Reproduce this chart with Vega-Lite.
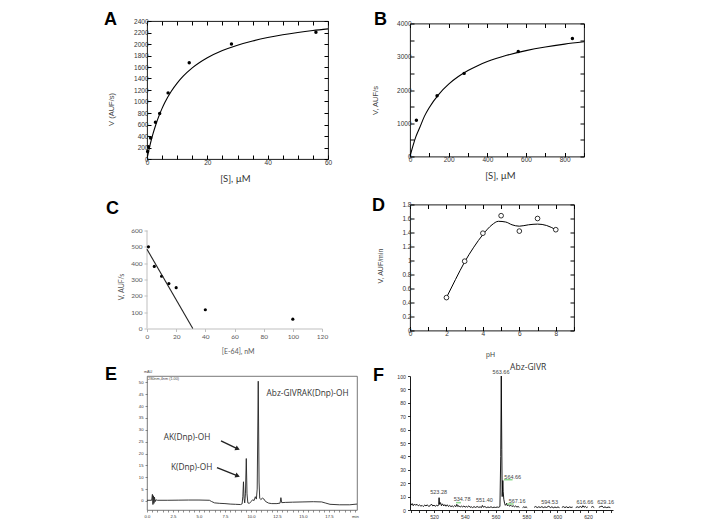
{
  "$schema": "https://vega.github.io/schema/vega-lite/v6.json",
  "background": "white",
  "padding": {"left": 103, "top": 10, "right": 5, "bottom": 5},
  "config": {
    "view": {"stroke": "black", "strokeWidth": 0.9},
    "axis": {"grid": false, "labelOverlap": false, "labelFlush": false, "labelFont": "Liberation Sans", "titleFont": "Liberation Sans", "labelColor": "#333", "titleColor": "#444", "titleFontWeight": "normal", "tickColor": "black", "domainColor": "black", "labelFontSize": 6.5, "titleFontSize": 7.5},
    "title": {"font": "Liberation Sans", "fontSize": 18, "fontWeight": "bold", "color": "black", "anchor": "start", "frame": "group", "offset": 0, "baseline": "alphabetic"}
  },
  "columns": 2,
  "spacing": {"row": 45.5, "column": 53},
  "bounds": "flush",
  "center": {"row": true, "column": false},
  "concat": [
    {
      "width": 181, "height": 138,
      "title": {"text": "A", "dx": -43, "dy": 15},
      "layer": [
        {
          "data": {"values": [{"x":0.1,"y":26},{"x":0.3,"y":77},{"x":0.5,"y":126},{"x":1,"y":240},{"x":1.5,"y":344},{"x":2,"y":440},{"x":3,"y":609},{"x":4,"y":754},{"x":5,"y":880},{"x":6,"y":990},{"x":8,"y":1173},{"x":10,"y":1320},{"x":12,"y":1440},{"x":15,"y":1584},{"x":20,"y":1760},{"x":25,"y":1886},{"x":30,"y":1980},{"x":35,"y":2053},{"x":40,"y":2112},{"x":45,"y":2160},{"x":50,"y":2200},{"x":55,"y":2234},{"x":60,"y":2263}]},
          "mark": {"type": "line", "color": "black", "strokeWidth": 1.1, "interpolate": "monotone"},
          "encoding": {
            "x": {"field": "x", "type": "quantitative", "scale": {"domain": [0, 60], "nice": false, "zero": false}, "axis": {"orient": "top", "values": [0,5,10,15,20,25,30,35,40,45,50,55,60], "labels": false, "title": null, "domain": false, "tickSize": -4}},
            "y": {"field": "y", "type": "quantitative", "scale": {"domain": [0, 2400], "nice": false}, "axis": {"orient": "right", "values": [0,200,400,600,800,1000,1200,1400,1600,1800,2000,2200,2400], "labels": false, "title": null, "domain": false, "tickSize": -4}}
          }
        },
        {
          "data": {"values": [{"x":0.2,"y":130},{"x":0.5,"y":215},{"x":1.2,"y":365},{"x":2.8,"y":640},{"x":4.2,"y":790},{"x":7,"y":1150},{"x":14,"y":1675},{"x":28,"y":2000},{"x":56,"y":2205}]},
          "mark": {"type": "circle", "color": "black", "size": 12, "opacity": 1},
          "encoding": {
            "x": {"field": "x", "type": "quantitative", "axis": {"orient": "bottom", "values": [0,5,10,15,20,25,30,35,40,45,50,55,60], "labelExpr": "datum.value % 20 === 0 ? datum.label : ''", "labelOverlap": false, "domain": false, "tickSize": -4, "labelPadding": 4, "title": "[S], µM", "titleFont": "Lato", "titleFontSize": 9.5, "titleColor": "#333", "titleX": 88, "titleY": 19.3, "titleBaseline": "middle", "titleAlign": "center"}},
            "y": {"field": "y", "type": "quantitative", "axis": {"orient": "left", "values": [0,200,400,600,800,1000,1200,1400,1600,1800,2000,2200,2400], "format": "d", "labelOverlap": false, "domain": false, "tickSize": -4, "labelPadding": 3, "title": "V (AUF/s)", "titleX": -36, "titleY": 88, "titleBaseline": "middle", "titleAlign": "center", "titleAngle": -90}}
          }
        }
      ],
      "resolve": {"axis": {"x": "independent", "y": "independent"}}
    },
    {
      "width": 174, "height": 133,
      "title": {"text": "B", "dx": -36, "dy": 12.5},
      "layer": [
        {
          "data": {"values": [{"x":0,"y":0},{"x":10,"y":217},{"x":20,"y":412},{"x":30,"y":589},{"x":50,"y":865},{"x":75,"y":1214},{"x":100,"y":1476},{"x":150,"y":1878},{"x":200,"y":2176},{"x":250,"y":2404},{"x":300,"y":2585},{"x":350,"y":2732},{"x":400,"y":2854},{"x":500,"y":3043},{"x":600,"y":3184},{"x":700,"y":3293},{"x":800,"y":3380},{"x":900,"y":3451}]},
          "mark": {"type": "line", "color": "black", "strokeWidth": 1.1, "interpolate": "monotone"},
          "encoding": {
            "x": {"field": "x", "type": "quantitative", "scale": {"domain": [0, 900], "nice": false}, "axis": {"orient": "top", "values": [0,100,200,300,400,500,600,700,800,900], "labels": false, "title": null, "domain": false, "tickSize": -4}},
            "y": {"field": "y", "type": "quantitative", "scale": {"domain": [0, 4000], "nice": false}, "axis": {"orient": "right", "values": [0,500,1000,1500,2000,2500,3000,3500,4000], "labels": false, "title": null, "domain": false, "tickSize": -4}}
          }
        },
        {
          "data": {"values": [{"x":33,"y":1090},{"x":140,"y":1825},{"x":280,"y":2500},{"x":560,"y":3160},{"x":840,"y":3550}]},
          "mark": {"type": "circle", "color": "black", "size": 12, "opacity": 1},
          "encoding": {
            "x": {"field": "x", "type": "quantitative", "axis": {"orient": "bottom", "values": [0,100,200,300,400,500,600,700,800,900], "labelExpr": "datum.value % 200 === 0 ? datum.label : ''", "labelOverlap": false, "domain": false, "tickSize": -4, "labelPadding": 4, "title": "[S], µM", "titleFont": "Lato", "titleFontSize": 9.5, "titleColor": "#333", "titleX": 90, "titleY": 19.3, "titleBaseline": "middle", "titleAlign": "center"}},
            "y": {"field": "y", "type": "quantitative", "axis": {"orient": "left", "values": [0,500,1000,1500,2000,2500,3000,3500,4000], "labelExpr": "datum.value % 1000 === 0 ? format(datum.value, 'd') : ''", "labelOverlap": false, "domain": false, "tickSize": -4, "labelPadding": 3, "title": "V, AUF/s", "titleX": -35, "titleY": 76.5, "titleBaseline": "middle", "titleAlign": "center", "titleAngle": -90}}
          }
        }
      ],
      "resolve": {"axis": {"x": "independent", "y": "independent"}}
    },
    {
      "width": 175, "height": 124,
      "view": {"stroke": null},
      "title": {"text": "C", "dx": -41, "dy": 17},
      "encoding": {
        "x": {"field": "x", "type": "quantitative", "scale": {"domain": [0, 120], "nice": false}, "axis": {"values": [0,20,40,60,80,100,120], "labelOverlap": false, "domainColor": "#bfbfbf", "tickColor": "#bfbfbf", "tickSize": 3, "labelColor": "#595959", "labelFont": "Lato", "labelFontSize": 6.5, "labelPadding": 2, "title": "[E-64], nM", "titleFont": "Lato", "titleFontSize": 7, "titleColor": "#595959", "titleX": 90.7, "titleY": 23, "titleBaseline": "middle", "titleAlign": "center"}},
        "y": {"field": "y", "type": "quantitative", "scale": {"domain": [0, 759.2], "nice": false}, "axis": {"values": [0,100,200,300,400,500,600], "labelOverlap": false, "domain": false, "tickColor": "#bfbfbf", "tickSize": 3, "labelColor": "#595959", "labelFont": "Lato", "labelFontSize": 6.5, "labelPadding": 2, "title": "V, AUF/s", "titleFont": "Lato", "titleFontSize": 7, "titleColor": "#595959", "titleX": -26, "titleY": 82, "titleBaseline": "middle", "titleAlign": "center", "titleAngle": -90}}
      },
      "layer": [
        {
          "data": {"values": [{"x":0,"y":0,"y2":600}]},
          "mark": {"type": "rule", "color": "#bfbfbf", "strokeWidth": 1},
          "encoding": {"y2": {"field": "y2"}}
        },
        {
          "data": {"values": [{"x":1,"y":500},{"x":5,"y":380},{"x":10,"y":320},{"x":15,"y":275},{"x":20,"y":250},{"x":40,"y":115},{"x":100,"y":57}]},
          "mark": {"type": "circle", "color": "black", "size": 10, "opacity": 1}
        },
        {
          "data": {"values": [{"x":0,"y":485},{"x":31.4,"y":0}]},
          "mark": {"type": "line", "color": "#222", "strokeWidth": 1.1}
        }
      ]
    },
    {
      "width": 164, "height": 126,
      "title": {"text": "D", "dx": -38, "dy": 17},
      "layer": [
        {
          "data": {"values": [{"x":2,"y":0.47},{"x":2.5,"y":0.73},{"x":3,"y":0.98},{"x":3.5,"y":1.19},{"x":4,"y":1.37},{"x":4.5,"y":1.51},{"x":4.85,"y":1.56},{"x":5.25,"y":1.55},{"x":5.6,"y":1.51},{"x":6,"y":1.49},{"x":6.5,"y":1.51},{"x":7,"y":1.52},{"x":7.5,"y":1.5},{"x":8,"y":1.44}]},
          "mark": {"type": "line", "color": "black", "strokeWidth": 1, "interpolate": "monotone"},
          "encoding": {
            "x": {"field": "x", "type": "quantitative", "scale": {"domain": [0, 9], "nice": false}, "axis": {"orient": "top", "values": [0,1,2,3,4,5,6,7,8,9], "labels": false, "title": null, "domain": false, "tickSize": -4}},
            "y": {"field": "y", "type": "quantitative", "scale": {"domain": [0, 1.8], "nice": false}, "axis": {"orient": "right", "values": [0,0.2,0.4,0.6,0.8,1,1.2,1.4,1.6,1.8], "labels": false, "title": null, "domain": false, "tickSize": -4}}
          }
        },
        {
          "data": {"values": [{"x":2,"y":0.47},{"x":3,"y":0.99},{"x":4,"y":1.39},{"x":5,"y":1.64},{"x":6,"y":1.42},{"x":7,"y":1.6},{"x":8,"y":1.44}]},
          "mark": {"type": "point", "shape": "circle", "filled": true, "fill": "white", "stroke": "black", "strokeWidth": 0.8, "size": 22, "opacity": 1},
          "encoding": {
            "x": {"field": "x", "type": "quantitative", "axis": {"orient": "bottom", "values": [0,1,2,3,4,5,6,7,8,9], "labelExpr": "datum.value % 2 === 0 ? datum.label : ''", "labelOverlap": false, "domain": false, "tickSize": -4, "labelPadding": 4, "title": "pH", "titleFontSize": 7, "titleX": 80, "titleY": 24, "titleBaseline": "middle", "titleAlign": "center"}},
            "y": {"field": "y", "type": "quantitative", "axis": {"orient": "left", "values": [0,0.2,0.4,0.6,0.8,1,1.2,1.4,1.6,1.8], "format": "~g", "labelOverlap": false, "domain": false, "tickSize": -4, "labelPadding": 3, "title": "V, AUF/min", "titleFontSize": 7, "titleX": -29.3, "titleY": 61, "titleBaseline": "middle", "titleAlign": "center", "titleAngle": -90}}
          }
        }
      ],
      "resolve": {"axis": {"x": "independent", "y": "independent"}}
    },
    {
      "width": 210, "height": 134,
      "view": {"stroke": "#555", "strokeWidth": 0.8},
      "title": {"text": "E", "dx": -42, "dy": 17.5},
      "encoding": {
        "x": {"field": "x", "type": "quantitative", "scale": {"domain": [0, 20.2], "nice": false, "zero": false}, "axis": {"values": [0,0.5,1,1.5,2,2.5,3,3.5,4,4.5,5,5.5,6,6.5,7,7.5,8,8.5,9,9.5,10,10.5,11,11.5,12,12.5,13,13.5,14,14.5,15,15.5,16,16.5,17,17.5,18,18.5,19,19.5,20], "labelExpr": "datum.value === 20 ? 'min' : (datum.value % 2.5 === 0 ? format(datum.value, '.1f') : '')", "labelOverlap": false, "domain": false, "tickSize": 2, "tickColor": "#444", "tickWidth": 0.6, "labelFontSize": 4.2, "labelPadding": 2, "title": null}},
        "y": {"field": "y", "type": "quantitative", "scale": {"domain": [-3.8, 52.7], "nice": false, "zero": false}, "axis": {"values": [0,5,10,15,20,25,30,35,40,45,50], "labelOverlap": false, "domain": false, "tickSize": 2, "tickColor": "#444", "tickWidth": 0.6, "labelFontSize": 4.2, "labelPadding": 2, "title": null}}
      },
      "layer": [
        {
          "data": {"values": [{"x":0,"y":0.3},{"x":0.45,"y":0.3},{"x":0.52,"y":2.8},{"x":0.57,"y":-1.5},{"x":0.62,"y":2.2},{"x":0.67,"y":-1.0},{"x":0.72,"y":1.6},{"x":0.78,"y":-0.3},{"x":0.85,"y":0.5},{"x":1.0,"y":0.3},{"x":2,"y":0.3},{"x":3,"y":0.35},{"x":4,"y":0.4},{"x":5,"y":0.4},{"x":6.0,"y":0.3},{"x":6.2,"y":-0.2},{"x":6.5,"y":-0.8},{"x":7,"y":-1.0},{"x":7.5,"y":-1.1},{"x":8,"y":-1.3},{"x":8.5,"y":-1.4},{"x":9.0,"y":-1.5},{"x":9.15,"y":-1.2},{"x":9.22,"y":2},{"x":9.28,"y":8.1},{"x":9.34,"y":1},{"x":9.4,"y":-0.8},{"x":9.47,"y":3},{"x":9.55,"y":17.9},{"x":9.62,"y":3},{"x":9.7,"y":-0.8},{"x":9.85,"y":-1.0},{"x":10.0,"y":-0.3},{"x":10.15,"y":0.5},{"x":10.3,"y":0.2},{"x":10.42,"y":1.8},{"x":10.52,"y":0.8},{"x":10.6,"y":5},{"x":10.7,"y":50.5},{"x":10.78,"y":8},{"x":10.84,"y":1.2},{"x":10.95,"y":0.6},{"x":11.1,"y":1.2},{"x":11.25,"y":0.8},{"x":11.4,"y":-0.2},{"x":11.7,"y":-0.9},{"x":12.0,"y":-1.1},{"x":12.5,"y":-1.1},{"x":12.8,"y":-0.9},{"x":12.88,"y":1.4},{"x":12.96,"y":-0.7},{"x":13.3,"y":-0.6},{"x":14,"y":-0.5},{"x":15,"y":-0.4},{"x":16,"y":-0.3},{"x":16.8,"y":-0.4},{"x":17.2,"y":-0.9},{"x":17.6,"y":-1.4},{"x":18.5,"y":-1.6},{"x":19.5,"y":-1.6},{"x":20.2,"y":-1.3}]},
          "mark": {"type": "line", "color": "#222", "strokeWidth": 0.9}
        },
        {
          "data": {"values": [{"x":11.5,"y":45.1,"t":"Abz-GIVRAK(Dnp)-OH"},{"x":1.6,"y":26.6,"t":"AK(Dnp)-OH"},{"x":2.3,"y":13.7,"t":"K(Dnp)-OH"}]},
          "mark": {"type": "text", "align": "left", "baseline": "middle", "font": "Open Sans", "fontSize": 8.3, "color": "#333"},
          "encoding": {"text": {"field": "t"}}
        },
        {
          "data": {"values": [{"x":-0.3,"y":54.3,"t":"mAU"},{"x":0.1,"y":51.6,"t":"280nm,4nm (1.00)"}]},
          "mark": {"type": "text", "align": "left", "baseline": "middle", "font": "Liberation Sans", "fontSize": 3.8, "color": "#444"},
          "encoding": {"text": {"field": "t"}}
        },
        {
          "data": {"values": [{"x":7.12,"y":25.3,"x2":8.72,"y2":21.97},{"x":6.73,"y":14.04,"x2":8.72,"y2":10.6}]},
          "mark": {"type": "rule", "color": "#222", "strokeWidth": 1.4},
          "encoding": {"x2": {"field": "x2"}, "y2": {"field": "y2"}}
        },
        {
          "data": {"values": [{"x":8.72,"y":21.97,"a":25},{"x":8.72,"y":10.6,"a":21}]},
          "mark": {"type": "point", "shape": "triangle-right", "filled": true, "color": "#222", "size": 28, "opacity": 1},
          "encoding": {"angle": {"field": "a", "type": "quantitative", "scale": null}}
        }
      ]
    },
    {
      "width": 203, "height": 134,
      "view": {"stroke": null},
      "title": {"text": "F", "dx": -37, "dy": 26},
      "encoding": {
        "x": {"field": "x", "type": "quantitative", "scale": {"domain": [504.4, 636.2], "nice": false, "zero": false}, "axis": {"values": [505,510,515,520,525,530,535,540,545,550,555,560,565,570,575,580,585,590,595,600,605,610,615,620,625,630,635], "labelExpr": "datum.value % 20 === 0 ? datum.label : ''", "labelOverlap": false, "tickSize": 2.5, "tickWidth": 0.8, "domainWidth": 0.9, "labelFontSize": 5.2, "labelPadding": 2, "title": null}},
        "y": {"field": "y", "type": "quantitative", "scale": {"domain": [0, 100], "nice": false}, "axis": {"values": [0,10,20,30,40,50,60,70,80,90,100], "labelOverlap": false, "tickSize": 2.5, "tickWidth": 0.8, "domainWidth": 0.9, "labelFontSize": 5.2, "labelPadding": 2, "title": null}}
      },
      "layer": [
        {
          "data": {"values": [
            {"x":505,"y":3.5,"s":1},{"x":505.8,"y":4.8,"s":1},{"x":506.5,"y":3.2,"s":1},{"x":507.3,"y":4.5,"s":1},{"x":508,"y":3.6,"s":1},{"x":509,"y":4.2,"s":1},{"x":509.8,"y":3.1,"s":1},{"x":510.5,"y":3.8,"s":1},{"x":511.5,"y":2.9,"s":1},{"x":512.3,"y":3.4,"s":1},{"x":513,"y":2.6,"s":1},{"x":514,"y":3.7,"s":1},{"x":514.8,"y":3.0,"s":1},{"x":515.6,"y":3.9,"s":1},{"x":516.5,"y":2.7,"s":1},{"x":517.5,"y":3.2,"s":1},{"x":518.3,"y":4.4,"s":1},{"x":519.2,"y":3.0,"s":1},{"x":520,"y":3.6,"s":1},{"x":520.8,"y":2.8,"s":1},{"x":521.7,"y":3.5,"s":1},{"x":522.5,"y":3.0,"s":1},{"x":523,"y":4.0,"s":1},{"x":523.28,"y":9.2,"s":1},{"x":523.6,"y":4.2,"s":1},{"x":524.2,"y":5.5,"s":1},{"x":524.8,"y":3.2,"s":1},{"x":525.5,"y":4.6,"s":1},{"x":526.3,"y":3.0,"s":1},{"x":527,"y":4.0,"s":1},{"x":527.8,"y":2.8,"s":1},{"x":528.6,"y":3.9,"s":1},{"x":529.4,"y":2.6,"s":1},{"x":530.2,"y":3.4,"s":1},{"x":531,"y":2.5,"s":1},{"x":531.8,"y":3.1,"s":1},{"x":532.6,"y":2.4,"s":1},{"x":533.4,"y":3.3,"s":1},{"x":534.2,"y":2.5,"s":1},{"x":534.78,"y":4.2,"s":1},{"x":535.4,"y":2.6,"s":1},{"x":536.2,"y":3.2,"s":1},{"x":537,"y":2.2,"s":1},{"x":537.8,"y":2.9,"s":1},{"x":538.6,"y":2.3,"s":1},{"x":539.4,"y":3.0,"s":1},{"x":540.2,"y":2.1,"s":1},{"x":541,"y":2.7,"s":1},{"x":541.8,"y":2.2,"s":1},{"x":542.6,"y":3.1,"s":1},{"x":543.4,"y":2.0,"s":1},{"x":544.2,"y":2.4,"s":1},{"x":545,"y":1.8,"s":1},{"x":546,"y":2.5,"s":1},{"x":547,"y":1.9,"s":1},{"x":548,"y":2.6,"s":1},{"x":549,"y":2.0,"s":1},{"x":550,"y":2.3,"s":1},{"x":550.8,"y":1.8,"s":1},{"x":551.4,"y":3.4,"s":1},{"x":552,"y":2.1,"s":1},{"x":553,"y":2.6,"s":1},{"x":554,"y":1.8,"s":1},{"x":555,"y":2.2,"s":1},{"x":556,"y":1.9,"s":1},{"x":557,"y":2.4,"s":1},{"x":558,"y":1.8,"s":1},{"x":559,"y":2.1,"s":1},{"x":560,"y":1.9,"s":1},{"x":561,"y":2.2,"s":1},{"x":562,"y":2.0,"s":1},{"x":562.8,"y":2.6,"s":1},{"x":563.3,"y":40,"s":1},{"x":563.66,"y":100,"s":1},{"x":564.0,"y":45,"s":1},{"x":564.25,"y":10,"s":1},{"x":564.45,"y":15,"s":1},{"x":564.66,"y":22,"s":1},{"x":564.9,"y":14,"s":1},{"x":565.3,"y":8,"s":1},{"x":565.8,"y":5,"s":1},{"x":566.3,"y":3.5,"s":1},{"x":566.8,"y":4.2,"s":1},{"x":567.16,"y":5.0,"s":1},{"x":567.6,"y":3.2,"s":1},{"x":568.3,"y":4.0,"s":1},{"x":569,"y":2.8,"s":1},{"x":569.8,"y":3.6,"s":1},{"x":570.6,"y":2.6,"s":1},{"x":571.4,"y":3.2,"s":1},{"x":572.2,"y":2.4,"s":1},{"x":573,"y":3.0,"s":1},{"x":573.8,"y":2.2,"s":1},{"x":574.6,"y":2.6,"s":1},{"x":575.4,"y":2.0,"s":1},
            {"x":577.5,"y":1.8,"s":2},{"x":578.3,"y":2.4,"s":2},{"x":579,"y":1.9,"s":2},{"x":579.8,"y":2.3,"s":2},{"x":580.5,"y":1.7,"s":2},
            {"x":585,"y":2.0,"s":3},{"x":586,"y":2.6,"s":3},{"x":587,"y":1.8,"s":3},{"x":588,"y":2.4,"s":3},{"x":589,"y":1.9,"s":3},{"x":590,"y":2.5,"s":3},{"x":591,"y":1.8,"s":3},{"x":592,"y":2.3,"s":3},{"x":593,"y":1.9,"s":3},{"x":594.53,"y":2.8,"s":3},{"x":595.5,"y":1.8,"s":3},{"x":596.5,"y":2.4,"s":3},{"x":597.5,"y":1.7,"s":3},{"x":598.5,"y":2.2,"s":3},{"x":599.5,"y":1.8,"s":3},{"x":600.5,"y":2.3,"s":3},{"x":601.5,"y":1.7,"s":3},
            {"x":603,"y":2.0,"s":4},{"x":604,"y":2.5,"s":4},{"x":605,"y":1.8,"s":4},{"x":606,"y":2.4,"s":4},{"x":607,"y":1.7,"s":4},{"x":608,"y":2.3,"s":4},{"x":609,"y":1.9,"s":4},{"x":610,"y":2.2,"s":4},
            {"x":612,"y":1.8,"s":5},{"x":613,"y":2.4,"s":5},{"x":614,"y":1.9,"s":5},{"x":615,"y":2.6,"s":5},{"x":616,"y":1.8,"s":5},{"x":616.66,"y":3.2,"s":5},{"x":617.4,"y":2.0,"s":5},{"x":618.2,"y":2.7,"s":5},{"x":619,"y":1.8,"s":5},{"x":619.8,"y":2.3,"s":5},
            {"x":622,"y":2.0,"s":6},{"x":623,"y":2.6,"s":6},{"x":624,"y":1.8,"s":6},
            {"x":627,"y":2.0,"s":7},{"x":628,"y":2.5,"s":7},{"x":629.16,"y":2.9,"s":7},{"x":630,"y":1.8,"s":7},{"x":631,"y":2.3,"s":7},{"x":632,"y":1.8,"s":7},{"x":633.5,"y":2.2,"s":7},{"x":634.5,"y":1.8,"s":7}
          ]},
          "mark": {"type": "line", "color": "black", "strokeWidth": 0.9},
          "encoding": {"detail": {"field": "s", "type": "nominal"}}
        },
        {
          "data": {"values": [{"x":534.3,"x2":537.5,"y":5.5},{"x":565.4,"x2":571.0,"y":22.6},{"x":567.4,"x2":571.7,"y":4.5}]},
          "mark": {"type": "rule", "color": "#8fd88f", "strokeWidth": 1.5},
          "encoding": {"x2": {"field": "x2"}}
        },
        {
          "data": {"values": [{"x":523.0,"y":13.2,"t":"523.28"},{"x":538.2,"y":8.0,"t":"534.78"},{"x":552.7,"y":7.5,"t":"551.40"},{"x":563.5,"y":103.2,"t":"563.66"},{"x":571.1,"y":24.4,"t":"564.66"},{"x":573.9,"y":6.7,"t":"567.16"},{"x":595,"y":6.2,"t":"594.53"},{"x":618,"y":6.2,"t":"616.66"},{"x":631.4,"y":6.0,"t":"629.16"}]},
          "mark": {"type": "text", "align": "center", "baseline": "middle", "font": "Liberation Sans", "fontSize": 5.5, "color": "#444"},
          "encoding": {"text": {"field": "t"}}
        },
        {
          "data": {"values": [{"x":569.4,"y":106.5,"t":"Abz-GIVR"}]},
          "mark": {"type": "text", "align": "left", "baseline": "middle", "font": "Open Sans", "fontSize": 8.5, "color": "#333"},
          "encoding": {"text": {"field": "t"}}
        }
      ]
    }
  ]
}
